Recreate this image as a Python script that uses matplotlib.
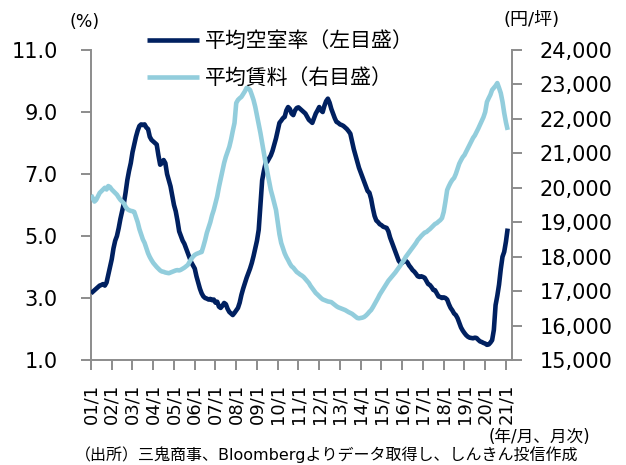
import numpy as np
import matplotlib
matplotlib.use("Agg")
import matplotlib.pyplot as plt
from matplotlib.ticker import FuncFormatter

plt.rcParams['font.family'] = ['DejaVu Sans', 'Noto Sans CJK JP']

# ---- data (monthly, 2001/1 .. 2021/2) ----
start_year = 2001
vacancy = [
    3.15, 3.20, 3.25, 3.30, 3.35, 3.40, 3.42, 3.45, 3.40, 3.50, 3.75, 4.00,   # 2001
    4.25, 4.60, 4.85, 5.00, 5.25, 5.55, 5.80, 6.05, 6.40, 6.80, 7.10, 7.35,   # 2002
    7.70, 7.95, 8.20, 8.40, 8.55, 8.60, 8.58, 8.60, 8.50, 8.45, 8.20, 8.10,   # 2003
    8.05, 8.00, 7.95, 7.60, 7.30, 7.35, 7.45, 7.35, 7.00, 6.80, 6.60, 6.30,   # 2004
    6.00, 5.80, 5.50, 5.15, 5.00, 4.85, 4.75, 4.60, 4.45, 4.30, 4.15, 4.05,   # 2005
    3.95, 3.70, 3.50, 3.30, 3.15, 3.05, 3.00, 2.98, 2.95, 2.97, 2.93, 2.95,   # 2006
    2.85, 2.88, 2.72, 2.68, 2.75, 2.84, 2.80, 2.65, 2.55, 2.50, 2.45, 2.52,   # 2007
    2.60, 2.68, 2.85, 3.10, 3.30, 3.48, 3.65, 3.80, 3.95, 4.13, 4.35, 4.60,   # 2008
    4.85, 5.20, 6.00, 6.80, 7.10, 7.35, 7.40, 7.50, 7.60, 7.75, 7.95, 8.15,   # 2009
    8.40, 8.65, 8.72, 8.80, 8.84, 9.05, 9.16, 9.10, 8.95, 8.90, 9.05, 9.13,   # 2010
    9.15, 9.10, 9.05, 9.00, 8.95, 8.85, 8.75, 8.70, 8.65, 8.80, 8.95, 9.05,   # 2011
    9.16, 9.05, 9.00, 9.20, 9.35, 9.43, 9.30, 9.10, 8.95, 8.80, 8.68, 8.65,   # 2012
    8.60, 8.58, 8.55, 8.50, 8.45, 8.38, 8.30, 8.05, 7.80, 7.60, 7.40, 7.20,   # 2013
    7.05, 6.90, 6.75, 6.60, 6.45, 6.40, 6.20, 5.90, 5.65, 5.50, 5.45, 5.38,   # 2014
    5.35, 5.30, 5.28, 5.26, 5.15, 4.95, 4.80, 4.65, 4.50, 4.35, 4.20, 4.13,   # 2015
    4.13, 4.20, 4.20, 4.15, 4.05, 3.98, 3.90, 3.85, 3.78, 3.70, 3.68, 3.70,   # 2016
    3.68, 3.65, 3.55, 3.45, 3.42, 3.35, 3.26, 3.25, 3.15, 3.05, 3.03, 3.00,   # 2017
    3.02, 3.00, 2.95, 2.80, 2.68, 2.60, 2.50, 2.45, 2.35, 2.20, 2.05, 1.95,   # 2018
    1.87, 1.80, 1.75, 1.72, 1.71, 1.70, 1.72, 1.71, 1.65, 1.60, 1.58, 1.55,   # 2019
    1.53, 1.49, 1.50, 1.56, 1.64, 1.97, 2.77, 3.07, 3.43, 3.93, 4.33, 4.49,   # 2020
    4.82, 5.24,                                                               # 2021
]
rent = [
    19790, 19700, 19600, 19650, 19750, 19850, 19900, 19950, 20000, 19950, 20050, 20020,  # 2001
    19950, 19900, 19850, 19800, 19720, 19650, 19600, 19550, 19450, 19380, 19350, 19330,  # 2002
    19320, 19300, 19150, 19000, 18800, 18650, 18500, 18400, 18250, 18100, 17990, 17900,  # 2003
    17820, 17760, 17700, 17650, 17600, 17570, 17560, 17540, 17530, 17520, 17540, 17560,  # 2004
    17580, 17600, 17610, 17600, 17620, 17650, 17680, 17720, 17760, 17850, 17930, 18000,  # 2005
    18050, 18080, 18100, 18120, 18135, 18300, 18480, 18690, 18850, 19000, 19200, 19355,  # 2006
    19550, 19750, 20020, 20250, 20480, 20720, 20900, 21050, 21190, 21400, 21650, 21880,  # 2007
    22460, 22550, 22600, 22640, 22720, 22800, 22900, 22880, 22840, 22700, 22550, 22350,  # 2008
    22100, 21850, 21590, 21300, 21000, 20720, 20450, 20200, 19935, 19750, 19550, 19355,  # 2009
    19000, 18650, 18400, 18250, 18100, 17990, 17900, 17800, 17720, 17680, 17620, 17555,  # 2010
    17520, 17480, 17450, 17410, 17350, 17290, 17235, 17150, 17080, 17010, 16945, 16900,  # 2011
    16850, 16800, 16760, 16740, 16720, 16700, 16690, 16680, 16640, 16600, 16560, 16530,  # 2012
    16510, 16490, 16470, 16450, 16420, 16390, 16365, 16340, 16300, 16260, 16220, 16210,  # 2013
    16220, 16230, 16250, 16290, 16340, 16400, 16450, 16530, 16620, 16710, 16800, 16900,  # 2014
    16980, 17060, 17140, 17220, 17300, 17360, 17420, 17480, 17540, 17610, 17680, 17750,  # 2015
    17830, 17900, 17990, 18060, 18130, 18195, 18260, 18330, 18400, 18485, 18540, 18600,  # 2016
    18650, 18700, 18715, 18760, 18800, 18850, 18900, 18950, 18975, 19020, 19060, 19120,  # 2017
    19300, 19600, 19935, 20050, 20150, 20230, 20285, 20400, 20550, 20700, 20800, 20890,  # 2018
    20950, 21050, 21155, 21250, 21350, 21450, 21520, 21620, 21720, 21830, 21940, 22050,  # 2019
    22200, 22490, 22600, 22700, 22840, 22900, 22960, 23040, 22900, 22750, 22500, 22170,  # 2020
    21900, 21680,                                                                        # 2021
]
tick_years = list(range(2001, 2022))
left_ticks = [1.0, 3.0, 5.0, 7.0, 9.0, 11.0]
right_ticks = list(range(15000, 24001, 1000))
label_vac = '平均空室率（左目盛）'
label_rent = '平均賃料（右目盛）'

DARK = '#002060'
LIGHT = '#92CDDC'
GREY = '#8C8C8C'

W, H = 626, 465
fig = plt.figure(figsize=(W / 100, H / 100), dpi=100)
ax = fig.add_axes([91 / W, (H - 360) / H, 421 / W, 310 / H])
ax2 = ax.twinx()

months = np.arange(len(vacancy))
l1, = ax.plot(months, vacancy, color=DARK, lw=3.3, solid_joinstyle='round', solid_capstyle='butt', zorder=3)
l2, = ax2.plot(months, rent, color=LIGHT, lw=3.3, solid_joinstyle='round', solid_capstyle='butt')

ax.set_xlim(0, 243.5)
ax.set_ylim(1.0, 11.0)
ax2.set_ylim(15000, 24000)

ax.set_yticks(left_ticks)
ax.yaxis.set_major_formatter(FuncFormatter(lambda v, p: f'{v:.1f}'))
ax2.set_yticks(right_ticks)
ax2.yaxis.set_major_formatter(FuncFormatter(lambda v, p: f'{int(v):,}'))

xt = [(y - start_year) * 12 for y in tick_years]
ax.set_xticks(xt)
ax.set_xticklabels([f'{y % 100:02d}/1' for y in tick_years], rotation=90, fontsize=13)

for s in ['top', 'right']:
    ax.spines[s].set_visible(False)
for s in ['top', 'left', 'bottom']:
    ax2.spines[s].set_visible(False)
for s in ['left', 'bottom']:
    ax.spines[s].set_color(GREY)
    ax.spines[s].set_linewidth(1.4)
ax2.spines['right'].set_color(GREY)
ax2.spines['right'].set_linewidth(1.4)

ax.tick_params(axis='y', direction='out', length=7, width=1.4, color=GREY, labelsize=15, pad=17)
ax.tick_params(axis='x', direction='out', length=7, width=1.4, color=GREY, pad=10)
ax2.tick_params(axis='y', direction='out', length=7, width=1.4, color=GREY, labelsize=15, pad=13)

fig.text(85 / W, 1 - 22 / H, '(%)', ha='center', va='center', fontsize=12.5)
fig.text(532 / W, 1 - 20 / H, '(円/坪)', ha='center', va='center', fontsize=13)
fig.text(590 / W, 1 - 437 / H, '(年/月、月次)', ha='right', va='center', fontsize=12)
fig.text(75 / W, 1 - 455 / H, '（出所）三鬼商事、Bloombergよりデータ取得し、しんきん投信作成',
         ha='left', va='center', fontsize=11.5)

fig.legend([l1, l2], [label_vac, label_rent], loc='upper left',
           bbox_to_anchor=(147 / W, 1 - 31 / H), frameon=False, fontsize=15,
           handlelength=2.5, handletextpad=0.3, labelspacing=0.85,
           borderpad=0, borderaxespad=0)

fig.savefig('out.png', dpi=100)
